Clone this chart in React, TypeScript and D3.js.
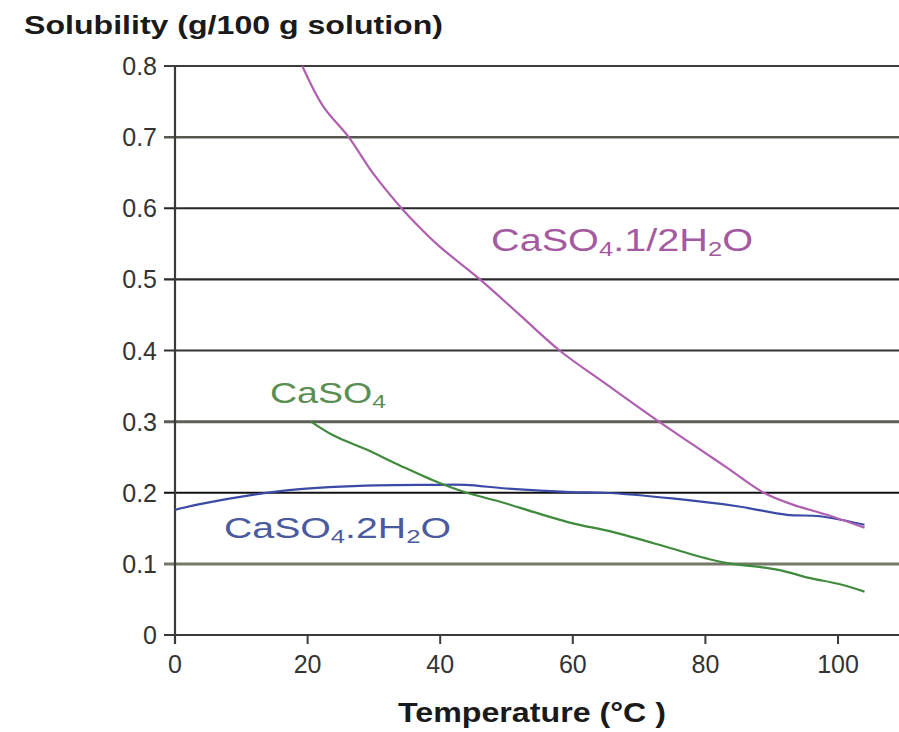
import React from "react";
import * as d3 from "d3";

const yTicks = [0, 0.1, 0.2, 0.3, 0.4, 0.5, 0.6, 0.7, 0.8];
const yTickLabels = ["0", "0.1", "0.2", "0.3", "0.4", "0.5", "0.6", "0.7", "0.8"];
const xTicks = [0, 20, 40, 60, 80, 100];
const xTickLabels = ["0", "20", "40", "60", "80", "100"];

const hemiT = [19.2, 22.3, 26.2, 29.8, 33.8, 36.8, 39.8, 46, 52, 58, 65, 73, 79, 83.3, 88.8, 93.3, 98.3, 104];
const hemiV = [0.8, 0.744, 0.7, 0.65, 0.604, 0.574, 0.547, 0.5, 0.45, 0.4, 0.353, 0.3, 0.262, 0.235, 0.2, 0.183, 0.169, 0.151];

const gypT = [0, 3.75, 11.7, 18.8, 28.8, 38.8, 43.8, 50, 59.8, 64.8, 75, 84.8, 92.3, 97.3, 104];
const gypV = [0.176, 0.184, 0.197, 0.205, 0.21, 0.211, 0.211, 0.206, 0.201, 0.2, 0.192, 0.181, 0.169, 0.167, 0.155];

const anhT = [20.5, 24, 28.8, 34, 39.8, 44, 48.8, 54.8, 60, 66, 74.8, 80, 83.3, 90.8, 95.8, 100, 104];
const anhV = [0.3, 0.28, 0.261, 0.238, 0.214, 0.2, 0.188, 0.171, 0.157, 0.145, 0.122, 0.108, 0.101, 0.092, 0.08, 0.072, 0.061];

const gridColors = ["#3a3a3a", "#747a68", "#111111", "#5e5e58", "#333333", "#2a2a2a", "#262626", "#55584c", "#3c3c3c"];
const gridWidths = [2, 3, 2.2, 3, 2.2, 2.2, 2.2, 2.5, 2.2];

const FONT = "'Liberation Sans', Arial, Helvetica, sans-serif";

export default function App() {
  const W = 899;
  const H = 732;
  const x = d3.scaleLinear().domain([0, 100]).range([175, 838]);
  const y = d3.scaleLinear().domain([0, 0.8]).range([635, 66]);

  const line = d3
    .line<[number, number]>()
    .x((d) => x(d[0]))
    .y((d) => y(d[1]))
    .curve(d3.curveCatmullRom.alpha(0.5));

  const mk = (t: number[], v: number[]) => t.map((tt, i) => [tt, v[i]] as [number, number]);

  const axisX0 = 175;
  const right = W;

  return (
    <svg
      width={W}
      height={H}
      style={{ position: "absolute", left: 0, top: 0, background: "#fff" }}
      fontFamily={FONT}
    >
      <rect x={0} y={0} width={W} height={H} fill="#fff" />
      {/* title */}
      <text
        x={24}
        y={34}
        fontSize={26}
        fontWeight="bold"
        fill="#1a1a1a"
        textLength={419}
        lengthAdjust="spacingAndGlyphs"
      >
        Solubility (g/100 g solution)
      </text>

      {/* gridlines */}
      {yTicks.map((t, i) => (
        <line
          key={"g" + i}
          x1={164}
          x2={right}
          y1={y(t)}
          y2={y(t)}
          stroke={gridColors[i]}
          strokeWidth={gridWidths[i]}
        />
      ))}

      {/* y axis */}
      <line x1={axisX0} x2={axisX0} y1={y(0.8)} y2={y(0) + 9} stroke="#3a3a3a" strokeWidth={2.2} />
      {yTicks.map((t, i) => (
        <text
          key={"yl" + i}
          x={157}
          y={y(t)}
          dy="0.36em"
          textAnchor="end"
          fontSize={25}
          fill="#333"
        >
          {yTickLabels[i]}
        </text>
      ))}

      {/* x ticks */}
      {xTicks.map((t, i) => (
        <g key={"xt" + i}>
          <line x1={x(t)} x2={x(t)} y1={y(0)} y2={y(0) + 9} stroke="#3a3a3a" strokeWidth={2} />
          <text x={x(t)} y={673} textAnchor="middle" fontSize={25} fill="#333">
            {xTickLabels[i]}
          </text>
        </g>
      ))}

      {/* curves */}
      <path d={line(mk(gypT, gypV)) || ""} fill="none" stroke="#3a4aa6" strokeWidth={2.2} />
      <path d={line(mk(anhT, anhV)) || ""} fill="none" stroke="#3f8a3c" strokeWidth={2.2} />
      <path d={line(mk(hemiT, hemiV)) || ""} fill="none" stroke="#b05fb0" strokeWidth={2.2} />

      {/* labels */}
      <text x={491} y={251} fontSize={31} fill="#a45aa0" textLength={262} lengthAdjust="spacingAndGlyphs">
        CaSO
        <tspan fontSize={20} dy={5}>4</tspan>
        <tspan dy={-5}>.1/2H</tspan>
        <tspan fontSize={20} dy={5}>2</tspan>
        <tspan dy={-5}>O</tspan>
      </text>
      <text x={270} y={403} fontSize={29} fill="#5a8e52" textLength={116} lengthAdjust="spacingAndGlyphs">
        CaSO
        <tspan fontSize={19} dy={5}>4</tspan>
      </text>
      <text x={224} y={538} fontSize={29} fill="#4a5a9e" textLength={227} lengthAdjust="spacingAndGlyphs">
        CaSO
        <tspan fontSize={19} dy={5}>4</tspan>
        <tspan dy={-5}>.2H</tspan>
        <tspan fontSize={19} dy={5}>2</tspan>
        <tspan dy={-5}>O</tspan>
      </text>

      {/* x axis title */}
      <text
        x={398}
        y={722}
        fontSize={27}
        fontWeight="bold"
        fill="#1a1a1a"
        textLength={268}
        lengthAdjust="spacingAndGlyphs"
      >
        Temperature (°C )
      </text>
    </svg>
  );
}
